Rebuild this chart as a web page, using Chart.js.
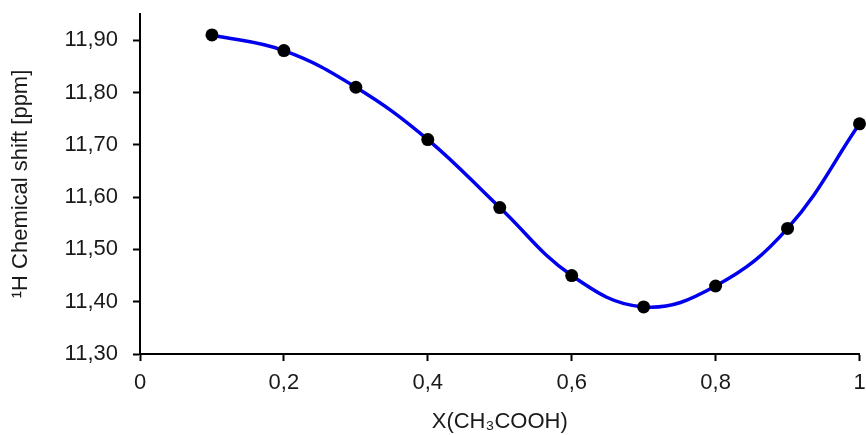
<!DOCTYPE html>
<html>
<head>
<meta charset="utf-8">
<script src="https://cdn.jsdelivr.net/npm/chart.js@4/dist/chart.umd.min.js"></script>
<style>
  html, body { margin: 0; padding: 0; background: #ffffff; }
  #wrap { width: 866px; height: 435px; position: relative; }
</style>
</head>
<body>
<div id="wrap"><canvas id="c" width="866" height="435"></canvas></div>
<script>
const xValues = [0.1, 0.2, 0.3, 0.4, 0.5, 0.6, 0.7, 0.8, 0.9, 1.0];
const shiftValues = [11.91, 11.88, 11.81, 11.71, 11.58, 11.45, 11.39, 11.43, 11.54, 11.74];
const xTicks = [0, 0.2, 0.4, 0.6, 0.8, 1];
const yTicks = [11.30, 11.40, 11.50, 11.60, 11.70, 11.80, 11.90];
const xTitle = 'X(CH\u2083COOH)';
const yTitle = '\u00B9H Chemical shift [ppm]';

const points = xValues.map((x, i) => ({ x: x, y: shiftValues[i] }));
const fmt = (v, d) => v.toFixed(d).replace('.', ',');
const FONT = 'Liberation Sans, Arial, sans-serif';
const TXT = '#1a1a1a';

const chart = new Chart(document.getElementById('c'), {
  type: 'scatter',
  data: {
    datasets: [{
      data: points,
      showLine: true,
      borderColor: '#0000ee',
      borderWidth: 3.5,
      tension: 0.4,
      pointRadius: 6.5,
      pointBackgroundColor: '#000000',
      pointBorderColor: '#000000',
      pointBorderWidth: 0,
      clip: false
    }]
  },
  options: {
    responsive: false,
    animation: false,
    events: [],
    layout: { padding: { top: 14, right: 6, left: 0, bottom: 0 } },
    plugins: { legend: { display: false }, tooltip: { enabled: false } },
    scales: {
      x: {
        type: 'linear',
        min: 0, max: 1,
        afterFit: s => { s.height = 81; s.paddingLeft = 0; s.paddingRight = 0; },
        afterBuildTicks: s => { s.ticks = xTicks.map(v => ({ value: v })); },
        border: { display: true, color: '#000000', width: 2 },
        grid: { display: true, drawOnChartArea: false, drawTicks: true, tickLength: 7, tickColor: '#000000', tickWidth: 2 },
        ticks: {
          padding: 9,
          color: TXT,
          font: { family: FONT, size: 22 },
          maxRotation: 0,
          callback: v => (v === 0 || v === 1) ? String(v) : fmt(v, 1)
        },
        title: { display: true, text: xTitle, color: TXT, font: { family: FONT, size: 22 }, padding: { top: 0, bottom: 0 } }
      },
      y: {
        type: 'linear',
        min: 11.30, max: 11.95,
        afterFit: s => { s.width = 140; s.paddingTop = 0; s.paddingBottom = 0; },
        afterBuildTicks: s => { s.ticks = yTicks.map(v => ({ value: v })); },
        border: { display: true, color: '#000000', width: 2 },
        grid: { display: true, drawOnChartArea: false, drawTicks: true, tickLength: 7, tickColor: '#000000', tickWidth: 2 },
        ticks: {
          padding: 15,
          color: TXT,
          font: { family: FONT, size: 22 },
          callback: v => fmt(v, 2)
        },
        title: { display: true, text: yTitle, color: TXT, font: { family: FONT, size: 22 }, padding: { top: 8, bottom: 0 } }
      }
    }
  }
});
</script>
</body>
</html>
